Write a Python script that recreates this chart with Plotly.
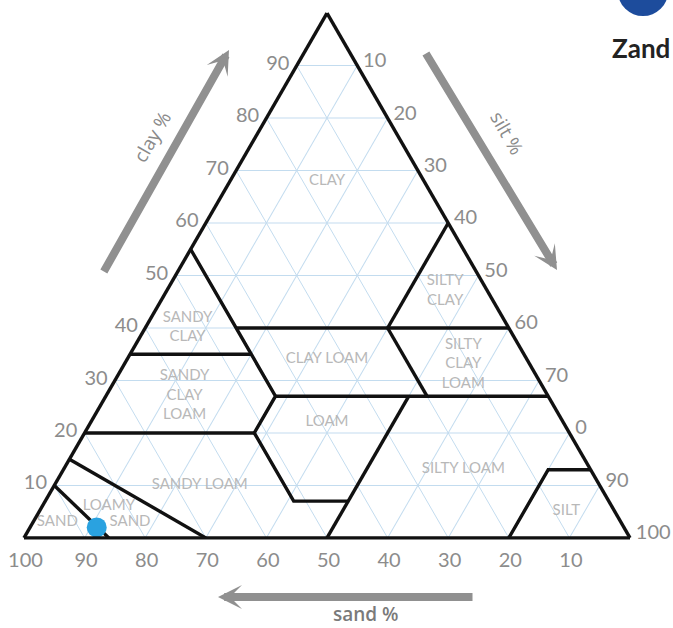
import plotly.graph_objects as go

# ---------------- data ----------------
clay_ticks = [10, 20, 30, 40, 50, 60, 70, 80, 90]
clay_ticktext = ["10", "20", "30", "40", "50", "60", "70", "80", "90"]
sand_ticks = [10, 20, 30, 40, 50, 60, 70, 80, 90, 100]
sand_ticktext = ["10", "20", "30", "40", "50", "60", "70", "80", "90", "100"]
silt_ticks = [10, 20, 30, 40, 50, 60, 70, 80, 90, 100]
silt_ticktext = ["10", "20", "30", "40", "50", "60", "70", "0", "90", "100"]

# texture class boundary lines (sand %, silt %, clay %)
line_sand = [
    [45, 45, 45, 52, 52, 43],
    [50, 23],
    [45, 0],
    [45, 0],
    [20, 20],
    [0, 20],
    [65, 45],
    [80, 52],
    [85, 70],
    [90, 86],
    [20, 7, 0],
]
line_silt = [
    [0, 20, 28, 28, 41, 50],
    [50, 50],
    [15, 60],
    [28, 73],
    [40, 53],
    [40, 40],
    [0, 20],
    [0, 28],
    [0, 30],
    [0, 14],
    [80, 80, 87],
]
line_clay = [
    [55, 35, 27, 20, 7, 7],
    [0, 27],
    [40, 40],
    [27, 27],
    [40, 27],
    [60, 40],
    [35, 35],
    [20, 20],
    [15, 0],
    [10, 0],
    [0, 13, 13],
]

# texture class labels
region_text = ["CLAY", "SILTY<br>CLAY", "SANDY<br>CLAY", "CLAY LOAM",
               "SILTY<br>CLAY<br>LOAM", "SANDY<br>CLAY<br>LOAM", "LOAM",
               "SILTY LOAM", "SANDY LOAM", "LOAMY", "SAND", "SAND", "SILT"]
region_sand = [16, 7, 53, 33, 11, 60, 39, 21, 66, 83, 81, 93, 8]
region_silt = [16, 46, 7, 33, 56, 13, 39, 66, 24, 11, 16, 4, 87]
region_clay = [68, 47, 40, 34, 33, 27, 22, 13, 10, 6, 3, 3, 5]

# measured sample
sample_sand = [87]
sample_silt = [11]
sample_clay = [2]

# ---------------- figure ----------------
W, H = 673, 628
ML, MR, MT, MB = 24, 43, 13, 90


def px(x):
    return (x - ML) / (W - ML - MR)


def py(y):
    return (H - MB - y) / (H - MT - MB)


LINE_CLR = "#111111"
GRID_CLR = "#c3dcef"
TICK_CLR = "#8c8c8c"
FONT = "Lato"
FONT2 = "Open Sans"

fig = go.Figure()

for s, si, c in zip(line_sand, line_silt, line_clay):
    fig.add_trace(go.Scatterternary(
        a=c, b=s, c=si, mode="lines",
        line=dict(color=LINE_CLR, width=3.4),
        hoverinfo="skip", showlegend=False,
    ))

fig.add_trace(go.Scatterternary(
    a=region_clay, b=region_sand, c=region_silt,
    mode="text", text=region_text,
    textfont=dict(family=FONT, size=15, color="#b8b8b8"),
    hoverinfo="skip", showlegend=False,
))

fig.add_trace(go.Scatterternary(
    a=sample_clay, b=sample_sand, c=sample_silt,
    mode="markers",
    marker=dict(size=20, color="#2aa2e0", line=dict(width=0)),
    hoverinfo="skip", showlegend=False,
))

axis_common = dict(
    showline=True, linecolor=LINE_CLR, linewidth=3.4,
    showgrid=True, gridcolor=GRID_CLR, gridwidth=1,
    ticks="outside", ticklen=3, tickcolor="rgba(0,0,0,0)",
    tickfont=dict(family=FONT, size=20, color=TICK_CLR),
    tickmode="array", title=dict(text=""),
)

fig.update_layout(
    width=W, height=H,
    margin=dict(l=ML, r=MR, t=MT, b=MB, pad=0),
    paper_bgcolor="white",
    showlegend=False,
    hovermode=False,
    ternary=dict(
        sum=100,
        bgcolor="white",
        domain=dict(x=[0, 1], y=[0, 1]),
        aaxis=dict(axis_common, tickvals=clay_ticks, ticktext=clay_ticktext),
        baxis=dict(axis_common, tickvals=sand_ticks, ticktext=sand_ticktext),
        caxis=dict(axis_common, tickvals=silt_ticks, ticktext=silt_ticktext),
    ),
)

ARROW_CLR = "#909090"


def arrow(x_tail, y_tail, x_head, y_head):
    return dict(
        x=px(x_head), y=py(y_head), xref="paper", yref="paper",
        ax=x_tail - x_head, ay=y_tail - y_head, axref="pixel", ayref="pixel",
        text="", showarrow=True, arrowhead=3, arrowsize=0.5,
        arrowwidth=8, arrowcolor=ARROW_CLR,
    )


def label(x, y, text, size, color, angle=0, xanchor="center",
          family=FONT2, weight="normal"):
    return dict(x=px(x), y=py(y), xref="paper", yref="paper", text=text,
                textangle=angle, showarrow=False,
                xanchor=xanchor, yanchor="middle",
                font=dict(family=family, size=size, color=color,
                          weight=weight))


annotations = [
    arrow(103, 273, 229, 50),
    arrow(425, 52, 557, 270),
    arrow(474, 597, 218, 597),
    label(152, 137, "clay %", 19, "#8a8a8a", angle=-60),
    label(507, 133, "silt %", 19, "#8a8a8a", angle=60),
    label(366, 614, "sand %", 19, "#7a7a7a", weight=600),
    label(610, 48, "Zand", 26, "#222222", xanchor="left",
          family=FONT, weight="bold"),
]
fig.update_layout(annotations=annotations)

fig.add_shape(type="circle", xref="paper", yref="paper",
              x0=px(618), x1=px(668), y0=py(-33), y1=py(16),
              fillcolor="#1d4c9c", line=dict(width=0))

fig.write_html("out.html",
               config={"displayModeBar": False},
               post_script="document.body.style.margin='0px';")
